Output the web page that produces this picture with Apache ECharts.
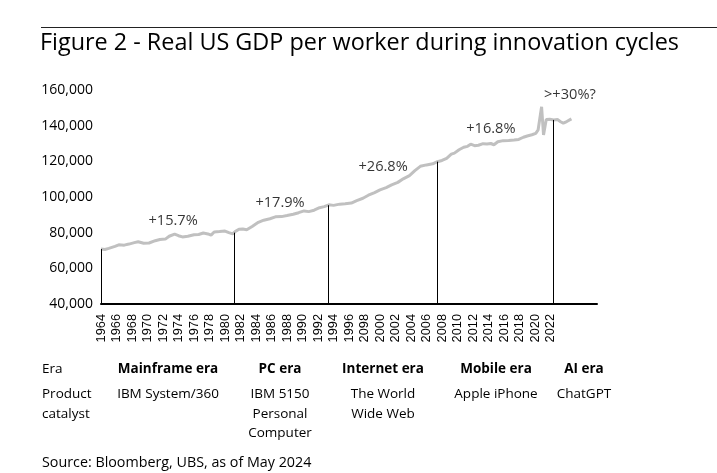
<!DOCTYPE html>
<html>
<head>
<meta charset="utf-8">
<script src="https://cdn.jsdelivr.net/npm/echarts@6/dist/echarts.min.js"></script>
<style>
html,body{margin:0;padding:0;background:#fff;}
#chart{width:717px;height:473px;}
</style>
</head>
<body>
<div id="chart"></div>
<script>
// ---- Data ----
var years = [1964.0,1964.5,1965.0,1965.8,1966.3,1967.0,1967.6,1968.3,1968.8,1969.5,1970.2,1971.0,1971.6,1972.3,1972.8,1973.5,1974.0,1974.5,1975.2,1976.0,1976.6,1977.2,1977.8,1978.2,1978.6,1979.3,1980.0,1980.5,1981.0,1981.3,1981.8,1982.3,1982.8,1983.5,1984.3,1985.0,1985.8,1986.5,1987.3,1988.0,1988.8,1989.5,1990.2,1990.8,1991.5,1992.2,1992.8,1993.4,1994.0,1994.8,1995.5,1996.3,1997.0,1997.8,1998.5,1999.3,2000.0,2000.8,2001.5,2002.3,2003.0,2003.8,2004.5,2005.2,2006.0,2006.8,2007.4,2008.0,2008.6,2009.2,2009.6,2010.2,2010.8,2011.3,2011.7,2012.2,2012.7,2013.3,2013.8,2014.3,2014.7,2015.2,2015.9,2016.6,2017.3,2017.9,2018.5,2019.0,2019.6,2020.1,2020.4,2020.6,2020.85,2021.1,2021.45,2021.9,2022.4,2022.9,2023.3,2023.65,2024.1,2024.7];
var gdpPerWorker = [70800,70600,71200,72300,73200,73000,73600,74400,74900,74100,74200,75500,76200,76400,78000,79200,78300,77600,78000,78800,79000,79800,79300,78600,80400,80600,80900,80000,79300,80600,81900,82000,81600,83500,85800,87000,87800,88900,89000,89600,90300,91200,92200,91800,92600,94000,94600,95600,95300,96000,96200,96600,98000,99300,101000,102500,104000,105300,106800,108200,110200,112000,114800,117200,118000,118600,119800,120500,121700,124000,124600,126500,127900,128400,129600,128800,129000,129900,129700,130000,129300,131000,131600,131700,132000,132300,133500,134200,134900,135700,137600,137900,150600,134800,143500,143600,143200,143400,142200,141400,142300,143800];

var eraStartYears = [1964, 1981.2, 1993.3, 2007.4, 2022.4];
var eraStartLevels = [70800, 80000, 95400, 119800, 143200];

var growthLabels = ['+15.7%', '+17.9%', '+26.8%', '+16.8%', '>+30%?'];
var growthLabelYears = [1973.3, 1987.1, 2000.4, 2014.3, 2024.5];
var growthLabelLevels = [86700, 96800, 117000, 138000, 157200];

var xTickLabels = ['1964','1966','1968','1970','1972','1974','1976','1978','1980','1982','1984','1986','1988','1990','1992','1994','1996','2098','2000','2002','2004','2006','2008','2010','2012','2014','2016','2018','2020','2022'];
var yTicks = [40000, 60000, 80000, 100000, 120000, 140000, 160000];

var eraNames = ['Mainframe era', 'PC era', 'Internet era', 'Mobile era', 'AI era'];
var catalysts = ['IBM System/360', 'IBM 5150\nPersonal\nComputer', 'The World\nWide Web', 'Apple iPhone', 'ChatGPT'];
var rowHeaders = ['Era', 'Product\ncatalyst'];
var titleText = 'Figure 2 - Real US GDP per worker during innovation cycles';
var sourceText = 'Source: Bloomberg, UBS, as of May 2024';

// ---- Build ----
var lineData = years.map(function (y, i) { return [y, gdpPerWorker[i]]; });
var markLines = eraStartYears.map(function (y, i) {
  return [{ coord: [y, yTicks[0]] }, { coord: [y, eraStartLevels[i]] }];
});
var labelData = growthLabelYears.map(function (y, i) {
  return { value: [y, growthLabelLevels[i]], name: growthLabels[i] };
});

var colCenters = [168, 280, 383, 496, 584];
var bodyFont = '13.5px "Open Sans"';
var boldFont = 'bold 13.5px "Open Sans"';
var graphics = [];
graphics.push({ type: 'line', shape: { x1: 41, y1: 27.5, x2: 717, y2: 27.5 }, style: { stroke: '#222', lineWidth: 1 }, silent: true });
graphics.push({ type: 'text', x: 40, y: 43, style: { text: titleText, font: '23.4px "Open Sans"', fill: '#000', textAlign: 'left', textVerticalAlign: 'middle' } });
graphics.push({ type: 'text', x: 42, y: 369, style: { text: rowHeaders[0], font: bodyFont, fill: '#000', textAlign: 'left', textVerticalAlign: 'middle' } });
graphics.push({ type: 'text', x: 42, y: 384.5, style: { text: rowHeaders[1], font: bodyFont, fill: '#000', textAlign: 'left', textVerticalAlign: 'top', lineHeight: 19.5 } });
eraNames.forEach(function (n, i) {
  graphics.push({ type: 'text', x: colCenters[i], y: 369, style: { text: n, font: boldFont, fill: '#000', textAlign: 'center', textVerticalAlign: 'middle' } });
  graphics.push({ type: 'text', x: colCenters[i], y: 384.5, style: { text: catalysts[i], font: bodyFont, fill: '#000', textAlign: 'center', textVerticalAlign: 'top', lineHeight: 19.5 } });
});
graphics.push({ type: 'text', x: 42, y: 463, style: { text: sourceText, font: '14.3px "Open Sans"', fill: '#000', textAlign: 'left', textVerticalAlign: 'middle' } });

var chart = echarts.init(document.getElementById('chart'), null, { renderer: 'canvas' });
chart.setOption({
  animation: false,
  backgroundColor: '#fff',
  grid: { left: 101, right: 120, top: 90, bottom: 169, containLabel: false },
  xAxis: {
    type: 'value', min: 1964, max: 2028, interval: 2,
    axisLine: { show: true, onZero: false, lineStyle: { color: '#000', width: 2 } },
    axisTick: { show: false },
    splitLine: { show: false },
    axisLabel: {
      rotate: 90, margin: 10, showMinLabel: true, showMaxLabel: false,
      fontFamily: 'Liberation Sans', fontSize: 12.8, color: '#000',
      formatter: function (v) {
        var idx = Math.round((v - 1964) / 2);
        return xTickLabels[idx] || '';
      }
    }
  },
  yAxis: {
    type: 'value', min: yTicks[0], max: yTicks[yTicks.length - 1], interval: 20000,
    axisLine: { show: false }, axisTick: { show: false }, splitLine: { show: false },
    axisLabel: {
      margin: 8, fontFamily: 'Open Sans', fontSize: 14, color: '#000',
      formatter: function (v) { return v.toLocaleString('en-US'); }
    }
  },
  series: [
    {
      type: 'line', data: lineData, symbol: 'none', silent: true,
      lineStyle: { color: '#c0c0c0', width: 3 },
      markLine: {
        silent: true, symbol: ['none', 'none'], label: { show: false },
        lineStyle: { color: '#000', width: 1, type: 'solid' },
        emphasis: { disabled: true },
        data: markLines
      },
      z: 3
    },
    {
      type: 'scatter', data: labelData, symbolSize: 2, silent: true,
      itemStyle: { color: 'rgba(255,255,255,0)' },
      label: {
        show: true, position: 'inside', formatter: function (p) { return p.name; },
        fontFamily: 'Open Sans', fontSize: 14.6, color: '#000'
      },
      z: 5
    }
  ],
  graphic: graphics
});
</script>
</body>
</html>
